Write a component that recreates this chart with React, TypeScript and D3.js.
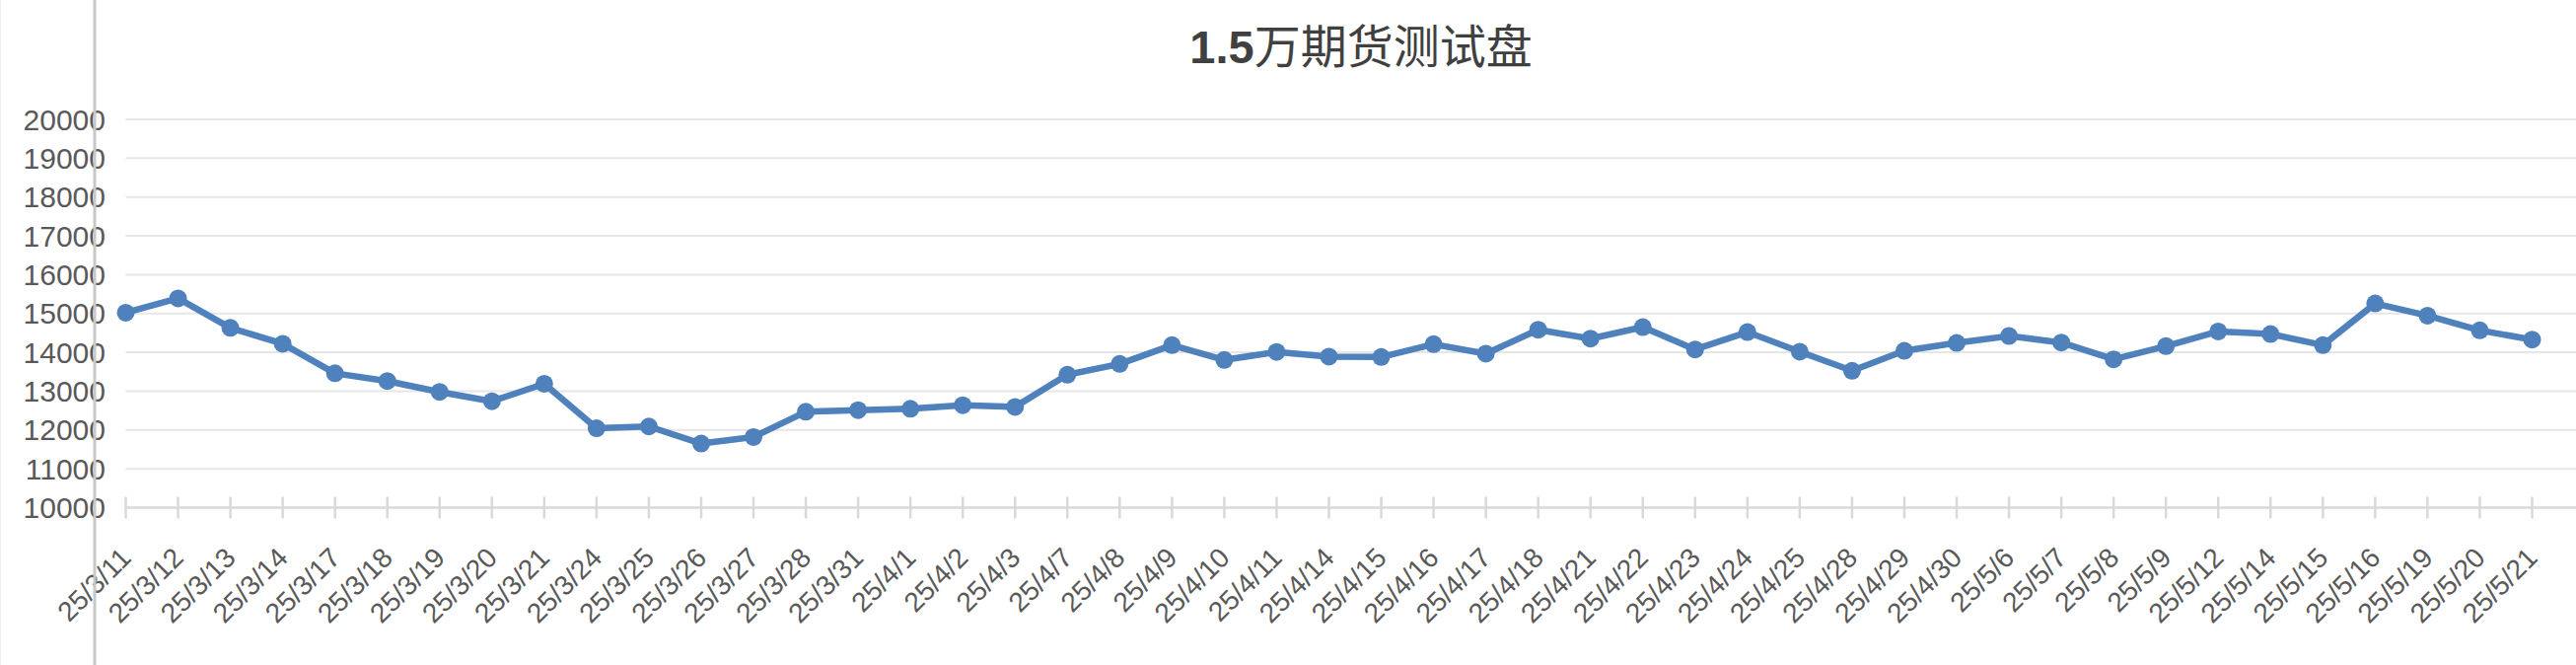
import * as d3 from "d3";

const W = 2612, H = 674;
const M = { left: 127.5, right: 2567.5, top: 121, bottom: 514.5 };

const TITLE_NUM = "1.5";
const TITLE_TEXT = "万期货测试盘";

const dates = [
  "25/3/11", "25/3/12", "25/3/13", "25/3/14", "25/3/17", "25/3/18", "25/3/19", "25/3/20",
  "25/3/21", "25/3/24", "25/3/25", "25/3/26", "25/3/27", "25/3/28", "25/3/31",
  "25/4/1", "25/4/2", "25/4/3", "25/4/7", "25/4/8", "25/4/9", "25/4/10", "25/4/11",
  "25/4/14", "25/4/15", "25/4/16", "25/4/17", "25/4/18", "25/4/21", "25/4/22", "25/4/23",
  "25/4/24", "25/4/25", "25/4/28", "25/4/29", "25/4/30",
  "25/5/6", "25/5/7", "25/5/8", "25/5/9", "25/5/12", "25/5/14", "25/5/15", "25/5/16",
  "25/5/19", "25/5/20", "25/5/21",
];

const values = [
  15020, 15390, 14630, 14220, 13460, 13260, 12980, 12740,
  13190, 12045, 12090, 11650, 11820, 12470, 12510,
  12545, 12637, 12595, 13423, 13702, 14184, 13804, 14010,
  13890, 13880, 14210, 13965, 14582, 14353, 14650, 14074,
  14522, 14015, 13525, 14040, 14243,
  14421, 14252, 13821, 14159, 14539, 14472, 14184, 15258,
  14945, 14565, 14328,
];

const yTicks = [10000, 11000, 12000, 13000, 14000, 15000, 16000, 17000, 18000, 19000, 20000];

const FONT = "'Liberation Sans', Arial, Helvetica, sans-serif";
const BLUE = "#4F81BD";

export default function App() {
  const x = d3.scalePoint<string>().domain(dates).range([M.left, M.right]);
  const y = d3.scaleLinear([10000, 20000], [M.bottom, M.top]);
  const line = d3.line<number>().x((_, i) => x(dates[i]) ?? 0).y((v) => y(v));

  return (
    <svg width={W} height={H} style={{ position: "absolute", left: 0, top: 0, display: "block", background: "#fff" }}>
      {/* title */}
      <text x={1380} y={64} textAnchor="middle" fill="#404040" fontSize={47}
        style={{ fontFamily: FONT }}>
        <tspan fontWeight="bold">{TITLE_NUM}</tspan>
        <tspan style={{ fontFamily: "'Noto Sans CJK SC', sans-serif" }}>{TITLE_TEXT}</tspan>
      </text>

      {/* gridlines */}
      {yTicks.slice(1).map((t) => (
        <line key={t} x1={M.left} x2={W} y1={y(t)} y2={y(t)} stroke="#e6e6e6" strokeWidth={2} />
      ))}

      {/* x axis + ticks */}
      <line x1={M.left} x2={W} y1={y(10000)} y2={y(10000)} stroke="#d9d9d9" strokeWidth={2.5} />
      {dates.map((d) => (
        <line key={d} x1={x(d)} x2={x(d)} y1={y(10000) - 11} y2={y(10000) + 11} stroke="#d9d9d9" strokeWidth={2.5} />
      ))}

      {/* y labels */}
      {yTicks.map((t) => (
        <text key={t} x={107} y={y(t)} textAnchor="end" dominantBaseline="central"
          fontSize={30} fill="#595959" style={{ fontFamily: FONT }}>
          {t}
        </text>
      ))}

      {/* x labels */}
      {dates.map((d) => (
        <text key={d} transform={`translate(${(x(d) ?? 0) + 7},${567}) rotate(-45)`}
          textAnchor="end" fontSize={28} fill="#595959" style={{ fontFamily: FONT }}>
          {d}
        </text>
      ))}

      {/* series */}
      <path d={line(values) ?? ""} fill="none" stroke={BLUE} strokeWidth={6.5} strokeLinejoin="round" />
      {values.map((v, i) => (
        <circle key={i} cx={x(dates[i])} cy={y(v)} r={9} fill={BLUE} />
      ))}

      {/* page edges */}
      <line x1={0.5} x2={0.5} y1={0} y2={H} stroke="#eeeeee" strokeWidth={1} />
      <line x1={96} x2={96} y1={0} y2={H} stroke="#c8c8c8" strokeWidth={3} />
    </svg>
  );
}
